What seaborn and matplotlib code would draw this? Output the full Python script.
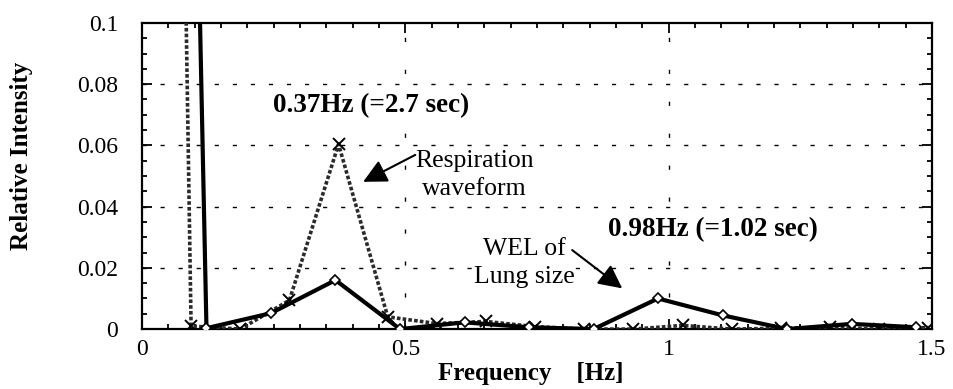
import numpy as np
import pandas as pd
import matplotlib
matplotlib.use("Agg")
import matplotlib.pyplot as plt
from matplotlib.ticker import MultipleLocator, FuncFormatter
import seaborn as sns

# respiration waveform spectrum (dotted, x markers)
resp_freq = [0.0, 0.0933, 0.1867, 0.28, 0.3733, 0.4667, 0.56, 0.6533, 0.7467,
             0.84, 0.9333, 1.0267, 1.12, 1.2133, 1.3067, 1.40, 1.4933]
resp_val = [1.0, 0.0010, 0.0, 0.0094, 0.0604, 0.0040, 0.0018, 0.0025, 0.0008,
            0.0, 0.0, 0.0012, 0.0, 0.0003, 0.0006, 0.0, 0.0005]

# WEL of lung size spectrum (solid, diamonds)
lung_freq = [0.0, 0.1225, 0.245, 0.3675, 0.49, 0.6125, 0.735, 0.8575, 0.98,
             1.1025, 1.225, 1.3475, 1.47]
lung_val = [1.0, 0.0003, 0.0052, 0.0160, 0.0, 0.0022, 0.0006, 0.0, 0.0100,
            0.0045, 0.0, 0.0017, 0.0006]

x_ticks = [0, 0.5, 1, 1.5]
y_ticks = [0, 0.02, 0.04, 0.06, 0.08, 0.1]

resp = pd.DataFrame({"Frequency": resp_freq, "Intensity": resp_val})
lung = pd.DataFrame({"Frequency": lung_freq, "Intensity": lung_val})

sns.set_style("ticks")
plt.rcParams['font.family'] = ['Liberation Serif', 'DejaVu Serif']
plt.rcParams['text.color'] = 'black'
plt.rcParams['axes.labelcolor'] = 'black'
plt.rcParams['xtick.color'] = 'black'
plt.rcParams['ytick.color'] = 'black'

fig = plt.figure(figsize=(9.54, 3.89), dpi=100)
ax = fig.add_axes([0.1488, 0.154, 0.828, 0.787])

# grid
for yv in y_ticks[1:-1]:
    ax.axhline(yv, color='black', lw=1.0, linestyle=(0, (3, 10)), zorder=1)
for xv in x_ticks[1:-1]:
    ax.axvline(xv, color='black', lw=1.0, linestyle=(0, (3, 20)), zorder=1)

sns.lineplot(data=resp, x="Frequency", y="Intensity", ax=ax, color='#2a2a2a',
             lw=2.6, linestyle=(0, (1, 0.6)), marker='x', markersize=8,
             markeredgewidth=1.4, markeredgecolor='black', zorder=3)
sns.lineplot(data=lung, x="Frequency", y="Intensity", ax=ax, color='black',
             lw=3.0, marker='D', markersize=5, markerfacecolor='white',
             markeredgecolor='black', markeredgewidth=1.2, zorder=4)

ax.set_xlim(0, 1.5)
ax.set_ylim(0, 0.1)
ax.set_xticks(x_ticks)
ax.set_yticks(y_ticks)
ax.xaxis.set_minor_locator(MultipleLocator(0.05))
ax.yaxis.set_minor_locator(MultipleLocator(0.005))
fmt = FuncFormatter(lambda v, p: '%g' % round(v, 4))
ax.xaxis.set_major_formatter(fmt)
ax.yaxis.set_major_formatter(fmt)

ax.tick_params(which='both', direction='in', top=True, right=True,
               colors='black', labelcolor='black', labelsize=17, width=1.3)
ax.tick_params(which='major', length=7)
ax.tick_params(which='minor', length=3.5)
ax.tick_params(axis='y', which='major', pad=17)
ax.tick_params(axis='x', which='major', pad=7)
for s in ax.spines.values():
    s.set_linewidth(1.6)
    s.set_color('black')

ax.set_xlabel("")
ax.set_ylabel("")
fig.text(0.556, 0.041, "Frequency    [Hz]", ha='center', va='center',
         fontsize=18, fontweight='bold', color='black')
fig.text(0.023, 0.599, "Relative Intensity", ha='center', va='center',
         rotation=90, fontsize=18, fontweight='bold', color='black')

# annotations (white box hides the grid behind the words)
box = dict(facecolor='white', edgecolor='none', pad=0.5)
ax.text(0.435, 0.0729, "0.37Hz (=2.7 sec)", ha='center', va='center',
        fontsize=19.5, fontweight='bold', color='black', bbox=box, zorder=2)
ax.text(1.085, 0.0324, "0.98Hz (=1.02 sec)", ha='center', va='center',
        fontsize=19.5, fontweight='bold', color='black', bbox=box, zorder=2)
ax.text(0.631, 0.0503, "Respiration\nwaveform", ha='center', va='center',
        fontsize=18.5, linespacing=1.35, color='black', bbox=box, zorder=2)
ax.text(0.726, 0.0216, "WEL of\nLung size", ha='center', va='center',
        fontsize=18.5, linespacing=1.3, color='black', bbox=box, zorder=2)

arrow = dict(arrowstyle='-|>', mutation_scale=36, lw=1.5, color='black',
             shrinkA=0, shrinkB=0)
ax.annotate("", xy=(0.420, 0.0481), xytext=(0.519, 0.0569), arrowprops=arrow)
ax.annotate("", xy=(0.912, 0.0133), xytext=(0.817, 0.0258), arrowprops=arrow)

fig.savefig("out.png", dpi=100)
